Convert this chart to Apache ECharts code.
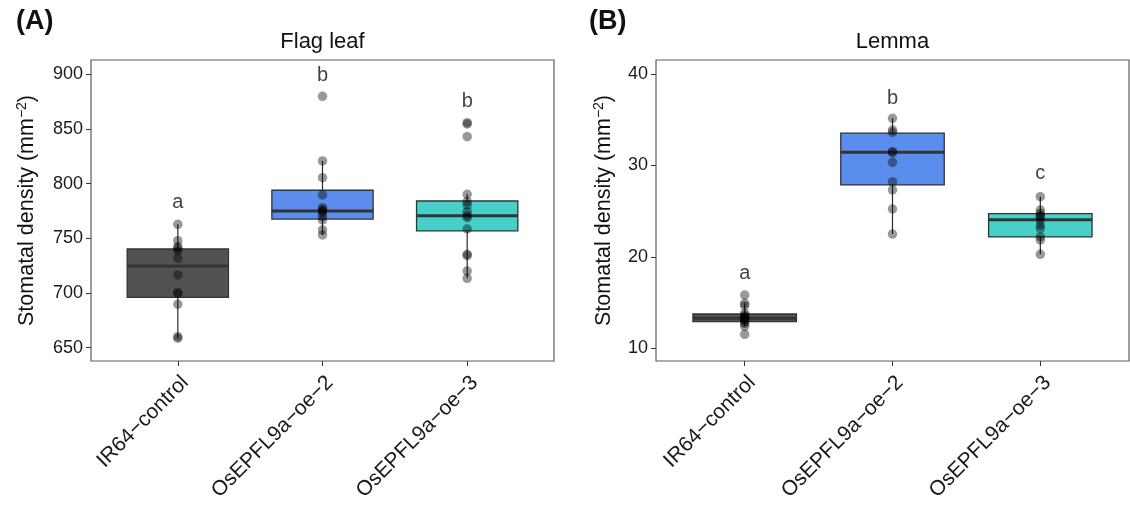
<!DOCTYPE html>
<html>
<head>
<meta charset="utf-8">
<script src="https://cdn.jsdelivr.net/npm/echarts@6/dist/echarts.min.js"></script>
<style>
  html, body { margin: 0; padding: 0; background: #fff; }
  #chart { width: 1130px; height: 506px; }
</style>
</head>
<body>
<div id="chart"></div>
<script>
// Genotypes on the x axis
const categories = ['IR64\u2212control', 'OsEPFL9a\u2212oe\u22122', 'OsEPFL9a\u2212oe\u22123'];

// Flag leaf stomatal density (mm^-2), one value per plant
const flagIR64 = [762.8, 747.8, 742.3, 740.9, 738.4, 731.7, 716.5, 700.6, 699.4, 689.7, 660.0, 658.6];
const flagOe2  = [879.8, 820.7, 805.4, 789.6, 778.0, 776.0, 775.0, 774.0, 770.0, 766.7, 757.6, 753.0];
const flagOe3  = [855.7, 854.5, 842.9, 790.2, 783.5, 780.4, 774.3, 770.7, 768.8, 758.5, 735.4, 734.1, 720.1, 713.4];

// Flag leaf box statistics: [lower whisker, Q1, median, Q3, upper whisker]
const flagBoxIR64 = [658.6, 696.0, 724.7, 740.2, 762.8];
const flagBoxOe2  = [753.0, 767.6, 775.0, 793.9, 820.7];
const flagBoxOe3  = [713.4, 756.7, 770.7, 784.1, 790.2];

// Lemma stomatal density (mm^-2)
const lemmaIR64 = [15.83, 14.92, 14.66, 13.83, 13.6, 13.46, 13.3, 13.2, 13.1, 12.9, 12.73, 12.4, 11.53];
const lemmaOe2  = [35.16, 33.88, 33.63, 31.51, 31.4, 30.35, 28.23, 27.32, 25.24, 22.5];
const lemmaOe3  = [26.59, 25.13, 24.77, 24.5, 24.4, 24.04, 23.49, 23.13, 22.21, 21.85, 20.28];

// Lemma box statistics: [lower whisker, Q1, median, Q3, upper whisker]
const lemmaBoxIR64 = [12.4, 12.91, 13.3, 13.75, 14.92];
const lemmaBoxOe2  = [22.5, 27.87, 31.44, 33.55, 35.16];
const lemmaBoxOe3  = [20.28, 22.18, 24.07, 24.73, 26.59];

// Significance groups and the height they are printed at
const flagLetters = ['a', 'b', 'b'];
const flagLetterY = [782.3, 899.0, 875.5];
const lemmaLetters = ['a', 'b', 'c'];
const lemmaLetterY = [18.16, 37.35, 29.1];

// Axis ticks
const flagTicks = [650, 700, 750, 800, 850, 900];
const lemmaTicks = [10, 20, 30, 40];

// Box fill per genotype
const boxColors = ['#525252', '#5b8ded', '#47d0ca'];

const FONT = '"Liberation Sans", Arial, Helvetica, sans-serif';
const gridA = { left: 91, top: 60, width: 463, height: 301 };
const gridB = { left: 656, top: 60, width: 473, height: 301 };

function boxData(boxes) {
  return boxes.map((b, i) => [i + 1].concat(b).concat([i]));
}
function pointData(groups) {
  const out = [];
  groups.forEach((arr, i) => arr.forEach(v => out.push([i + 1, v])));
  return out;
}
function letterData(letters, ys) {
  return letters.map((l, i) => [i + 1, ys[i], l]);
}

function renderBox(params, api) {
  const x = api.value(0);
  const lo = api.coord([x, api.value(1)]);
  const q1 = api.coord([x, api.value(2)]);
  const md = api.coord([x, api.value(3)]);
  const q3 = api.coord([x, api.value(4)]);
  const hi = api.coord([x, api.value(5)]);
  const w = api.size([0.7, 0])[0];
  const cx = q1[0];
  const fill = boxColors[api.value(6)];
  return {
    type: 'group',
    children: [
      { type: 'line', shape: { x1: cx, y1: q3[1], x2: cx, y2: hi[1] }, style: { stroke: '#2b2b2b', lineWidth: 1.2 } },
      { type: 'line', shape: { x1: cx, y1: q1[1], x2: cx, y2: lo[1] }, style: { stroke: '#2b2b2b', lineWidth: 1.2 } },
      { type: 'rect', shape: { x: cx - w / 2, y: q3[1], width: w, height: q1[1] - q3[1] },
        style: { fill: fill, stroke: '#333333', lineWidth: 1.3 } },
      { type: 'line', shape: { x1: cx - w / 2, y1: md[1], x2: cx + w / 2, y2: md[1] },
        style: { stroke: '#333333', lineWidth: 3 } }
    ]
  };
}

function xAxisFor(gridIndex) {
  return {
    type: 'value', gridIndex: gridIndex, min: 0.4, max: 3.6,
    splitLine: { show: false },
    axisLine: { show: false },
    axisTick: { show: true, customValues: [1, 2, 3], length: 5, lineStyle: { color: '#333', width: 1 } },
    axisLabel: {
      customValues: [1, 2, 3], rotate: 45, margin: 11, verticalAlign: 'top',
      fontSize: 21, fontFamily: FONT, color: '#1a1a1a',
      formatter: v => categories[Math.round(v) - 1]
    }
  };
}

function yAxisFor(gridIndex, min, max, ticks, gap) {
  return {
    type: 'value', gridIndex: gridIndex, min: min, max: max,
    splitLine: { show: false },
    axisLine: { show: false },
    axisTick: { show: true, customValues: ticks, length: 5, lineStyle: { color: '#333', width: 1 } },
    axisLabel: { customValues: ticks, margin: 8, fontSize: 18, fontFamily: FONT, color: '#1a1a1a' },
    name: 'Stomatal density (mm{sup|\u22122})',
    nameLocation: 'middle', nameRotate: 90, nameGap: gap,
    nameTextStyle: {
      fontSize: 21.5, fontFamily: FONT, color: '#111',
      rich: { sup: { fontSize: 14, fontFamily: FONT, color: '#111', verticalAlign: 'top', padding: [0, 0, 10, 0] } }
    }
  };
}

function panelSeries(idx, boxes, groups, letters, letterY) {
  return [
    {
      type: 'custom', xAxisIndex: idx, yAxisIndex: idx, z: 2,
      renderItem: renderBox,
      encode: { x: 0, y: [1, 2, 3, 4, 5] },
      data: boxData(boxes)
    },
    {
      type: 'scatter', xAxisIndex: idx, yAxisIndex: idx, z: 3,
      symbolSize: 9.5,
      itemStyle: { color: 'rgba(0,0,0,0.5)' },
      data: pointData(groups)
    },
    {
      type: 'scatter', xAxisIndex: idx, yAxisIndex: idx, z: 4,
      symbolSize: 1,
      itemStyle: { color: 'rgba(0,0,0,0)' },
      label: {
        show: true, position: 'inside', formatter: p => p.value[2],
        fontSize: 20, fontFamily: FONT, color: '#111'
      },
      data: letterData(letters, letterY)
    }
  ];
}

const chart = echarts.init(document.getElementById('chart'), null, { renderer: 'canvas' });

const gridStyle = { show: true, borderColor: '#5c5c5c', borderWidth: 1.2, backgroundColor: '#fff' };

chart.setOption({
  animation: false,
  backgroundColor: '#fff',
  grid: [Object.assign({}, gridA, gridStyle), Object.assign({}, gridB, gridStyle)],
  xAxis: [xAxisFor(0), xAxisFor(1)],
  yAxis: [
    yAxisFor(0, 637.8, 913.0, flagTicks, 52),
    yAxisFor(1, 8.61, 41.54, lemmaTicks, 40)
  ],
  graphic: [
    { type: 'text', x: gridA.left + gridA.width / 2, y: 42,
      style: { text: 'Flag leaf', align: 'center', verticalAlign: 'middle', fontSize: 22, fontFamily: FONT, fill: '#111' } },
    { type: 'text', x: gridB.left + gridB.width / 2, y: 42,
      style: { text: 'Lemma', align: 'center', verticalAlign: 'middle', fontSize: 22, fontFamily: FONT, fill: '#111' } },
    { type: 'text', x: 16, y: 22,
      style: { text: '(A)', align: 'left', verticalAlign: 'middle', fontSize: 27, fontWeight: 'bold', fontFamily: FONT, fill: '#111' } },
    { type: 'text', x: 589, y: 22,
      style: { text: '(B)', align: 'left', verticalAlign: 'middle', fontSize: 27, fontWeight: 'bold', fontFamily: FONT, fill: '#111' } }
  ],
  series: []
    .concat(panelSeries(0, [flagBoxIR64, flagBoxOe2, flagBoxOe3], [flagIR64, flagOe2, flagOe3], flagLetters, flagLetterY))
    .concat(panelSeries(1, [lemmaBoxIR64, lemmaBoxOe2, lemmaBoxOe3], [lemmaIR64, lemmaOe2, lemmaOe3], lemmaLetters, lemmaLetterY))
});
</script>
</body>
</html>
